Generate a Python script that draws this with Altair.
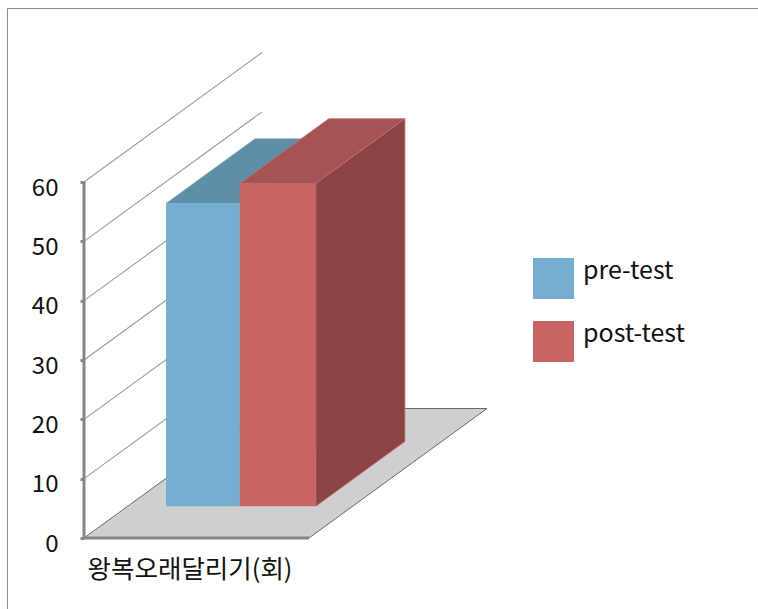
import altair as alt
import pandas as pd

# Measured values per test
series = ["pre-test", "post-test"]
values = [51.0, 54.4]
category = ["왕복오래달리기(회)"]
y_ticks = [0, 10, 20, 30, 40, 50, 60]

front_colors = ["#74AFD2", "#C96464"]
top_colors = ["#5D8FA8", "#A65353"]
side_colors = ["#4F7A90", "#8B4444"]
edge_colors = ["#7FA6BB", "#C07070"]

AXIS_GRAY = "#868686"
TEXT_COLOR = "#111111"
FONT = "Noto Sans CJK KR"

# Oblique projection of the pseudo-3D box: one unit of depth shifts a point
# right (in category units) and up (in value units).
UNIT_X_PX = 225
UNIT_Y_PX = 5.933
DEPTH_X = 178 / UNIT_X_PX
DEPTH_Y = 129.5 / UNIT_Y_PX
BAR_DEPTH_START = 0.246
BAR_DEPTH = 0.5
BAR_EDGES = [0.17, 0.498, 0.836]

PLOT_W = 674
PLOT_H = 485
x_scale = alt.Scale(domain=[0, PLOT_W / UNIT_X_PX], nice=False, zero=False)
y_scale = alt.Scale(domain=[0, PLOT_H / UNIT_Y_PX], nice=False, zero=False)

x_axis = alt.Axis(
    values=[(189.5 - 84) / UNIT_X_PX], labelExpr=f"'{category[0]}'",
    title=None, grid=False, domain=False, ticks=False, labelLimit=400,
    labelFont=FONT, labelFontSize=25.5, labelColor=TEXT_COLOR, labelPadding=19,
)
y_axis = alt.Axis(
    values=y_ticks, title=None, grid=False, domain=False,
    tickColor=AXIS_GRAY, tickWidth=3, tickSize=4,
    labelFont=FONT, labelFontSize=24, labelColor=TEXT_COLOR,
    labelPadding=22, labelOffset=6,
)


def X():
    return alt.X("x:Q", scale=x_scale, axis=x_axis)


def Y():
    return alt.Y("y:Q", scale=y_scale, axis=y_axis)


def depth_shift(depth):
    return depth * DEPTH_X, depth * DEPTH_Y


# Gridlines receding from the value axis
grid_rows = []
for t in y_ticks[1:]:
    dx, dy = depth_shift(1)
    grid_rows += [{"t": t, "x": 0, "y": t}, {"t": t, "x": dx, "y": t + dy}]
grid = alt.Chart(pd.DataFrame(grid_rows)).mark_line(
    color="#9A9A9A", strokeWidth=1.1
).encode(x=X(), y=Y(), detail="t:N")

# Floor parallelogram, swept along the value direction
dx, dy = depth_shift(1)
floor = alt.Chart(pd.DataFrame([
    {"y": 0, "x": 0, "x2": 1},
    {"y": dy, "x": dx, "x2": 1 + dx},
])).mark_area(orient="horizontal", color="#CFCFCF").encode(
    y=Y(), x=X(), x2="x2:Q"
)
floor_edge = alt.Chart(pd.DataFrame([
    {"x": 0, "y": 0, "o": 0},
    {"x": dx, "y": dy, "o": 1},
    {"x": 1 + dx, "y": dy, "o": 2},
    {"x": 1, "y": 0, "o": 3},
])).mark_line(color="#6A6A6A", strokeWidth=1).encode(
    x=X(), y=Y(), order="o:Q"
)


def bar_faces(i):
    """Top and side faces of one box, behind its front face."""
    x0, x1 = BAR_EDGES[i], BAR_EDGES[i + 1]
    sx, sy = depth_shift(BAR_DEPTH_START)
    bx, by = depth_shift(BAR_DEPTH)
    base = sy
    top = base + values[i]
    top_face = alt.Chart(pd.DataFrame([
        {"y": top, "x": x0 + sx, "x2": x1 + sx},
        {"y": top + by, "x": x0 + sx + bx, "x2": x1 + sx + bx},
    ])).mark_area(
        orient="horizontal", color=top_colors[i],
        stroke=edge_colors[i], strokeWidth=0.8,
    ).encode(y=Y(), x=X(), x2="x2:Q")
    side_face = alt.Chart(pd.DataFrame([
        {"x": x1 + sx, "y": base, "y2": top},
        {"x": x1 + sx + bx, "y": base + by, "y2": top + by},
    ])).mark_area(
        color=side_colors[i], stroke=edge_colors[i], strokeWidth=0.8,
    ).encode(x=X(), y=Y(), y2="y2:Q")
    return [top_face, side_face]


sx0, sy0 = depth_shift(BAR_DEPTH_START)
front_df = pd.DataFrame({
    "series": series,
    "x": [BAR_EDGES[i] + sx0 for i in range(2)],
    "x2": [BAR_EDGES[i + 1] + sx0 for i in range(2)],
    "y": [sy0] * 2,
    "y2": [sy0 + v for v in values],
})
legend = alt.Legend(
    title=None, orient="none", legendX=533 - 84, legendY=258 - 53, padding=0,
    symbolType="square", symbolSize=1681, symbolStrokeWidth=0,
    rowPadding=22, labelFontSize=25, labelFont=FONT, labelColor=TEXT_COLOR,
    labelOffset=9, labelBaseline="alphabetic",
)
fronts = [
    alt.Chart(front_df[front_df["series"] == s]).mark_rect().encode(
        x=X(), x2="x2:Q", y=Y(), y2="y2:Q",
        color=alt.Color(
            "series:N", legend=legend,
            scale=alt.Scale(domain=series, range=front_colors),
        ),
    )
    for s in series
]

# Heavy spines of the value axis and of the floor's front edge
spine_y = alt.Chart(pd.DataFrame({"x": [0, 0], "y": [0, 60]})).mark_line(
    color=AXIS_GRAY, strokeWidth=3
).encode(x=X(), y=Y())
spine_x = alt.Chart(pd.DataFrame({"x": [0, 1], "y": [0, 0]})).mark_line(
    color=AXIS_GRAY, strokeWidth=3
).encode(x=X(), y=Y())

# Thin frame along the top and left of the canvas
left_px, top_px = -76.5, 44.5 / UNIT_Y_PX
frame = alt.Chart(pd.DataFrame({
    "x": [PLOT_W / UNIT_X_PX, left_px / UNIT_X_PX, left_px / UNIT_X_PX],
    "y": [PLOT_H / UNIT_Y_PX + top_px, PLOT_H / UNIT_Y_PX + top_px, -71 / UNIT_Y_PX],
    "o": [0, 1, 2],
})).mark_line(color="#8C8C8C", strokeWidth=1).encode(
    x=X(), y=Y(), order="o:Q"
)

layers = [frame, grid, floor, floor_edge]
layers += bar_faces(0) + [fronts[0]] + bar_faces(1) + [fronts[1]]
layers += [spine_y, spine_x]

chart = alt.layer(*layers).properties(
    width=PLOT_W, height=PLOT_H,
    padding={"left": 84, "top": 53, "right": 0, "bottom": 71},
    autosize=alt.AutoSizeParams(type="none"),
    background="white",
).configure_view(stroke=None)

chart.save("out.html", embed_options={"renderer": "svg", "actions": False})
